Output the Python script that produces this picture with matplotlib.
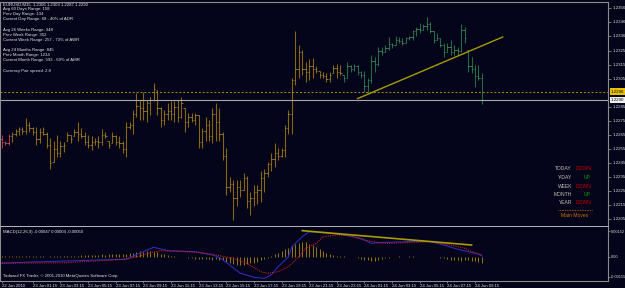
import numpy as np
import matplotlib
matplotlib.use("Agg")
import matplotlib.pyplot as plt
import matplotlib.transforms as mtransforms
from matplotlib.lines import Line2D

plt.rcParams['font.family'] = ['Liberation Sans', 'DejaVu Sans']

# ---------------- data (EURUSD, M15) ----------------
BASE = 1.2200   # bar prices are given in pips above this level
high_pips = [65, 61, 66, 67, 69, 71, 71, 77, 74, 71,
             71, 70, 71, 67, 63, 61, 65, 61, 60, 67,
             65, 69, 74, 70, 67, 65, 64, 63, 64, 69,
             67, 61, 67, 65, 64, 61, 74, 74, 83, 95,
             90, 96, 90, 92, 102, 97, 85, 83, 88, 89,
             89, 90, 92, 84, 81, 81, 81, 79, 70, 78,
             76, 84, 88, 84, 67, 56, 35, 33, 33, 33,
             38, 36, 24, 29, 29, 39, 41, 46, 52, 59,
             56, 56, 72, 83, 106, 139, 129, 126, 117, 119,
             120, 114, 111, 110, 109, 110, 115, 116, 115, 108,
             117, 115, 116, 115, 111, 111, 106, 122, 121, 128,
             128, 129, 135, 131, 136, 135, 134, 135, 136, 140,
             142, 145, 144, 149, 146, 139, 138, 134, 131, 131,
             133, 129, 128, 144, 142, 126, 121, 115, 115, 109]
low_pips = [56, 58, 58, 60, 64, 65, 66, 66, 67, 65,
            58, 59, 65, 56, 41, 46, 49, 49, 53, 61,
            59, 64, 61, 63, 58, 56, 54, 58, 56, 58,
            63, 56, 59, 58, 56, 52, 49, 69, 66, 78,
            76, 76, 74, 79, 89, 79, 71, 72, 76, 76,
            74, 74, 77, 67, 71, 74, 72, 56, 56, 61,
            61, 59, 61, 61, 47, 22, 24, 4, 14, 21,
            26, 13, 8, 14, 16, 17, 24, 35, 39, 42,
            47, 49, 49, 66, 66, 101, 106, 108, 103, 104,
            106, 109, 106, 106, 103, 103, 109, 106, 108, 103,
            106, 110, 111, 108, 106, 96, 95, 102, 110, 114,
            122, 124, 126, 127, 129, 131, 129, 131, 133, 133,
            136, 138, 140, 140, 138, 131, 133, 128, 121, 124,
            122, 122, 122, 124, 131, 110, 109, 99, 104, 87]
open_pips = [62, 60, 59, 64, 66, 68, 69, 68, 72, 70,
             67, 62, 67, 66, 58, 46, 55, 52, 57, 61,
             65, 64, 67, 66, 64, 60, 58, 60, 61, 60,
             65, 61, 59, 64, 60, 59, 55, 71, 72, 80,
             86, 84, 82, 88, 90, 97, 84, 76, 80, 82,
             80, 85, 78, 84, 74, 78, 76, 79, 60, 68,
             72, 64, 80, 74, 66, 50, 28, 30, 20, 28,
             26, 34, 18, 20, 24, 26, 34, 38, 44, 48,
             52, 50, 54, 70, 80, 104, 112, 124, 112, 110,
             114, 112, 111, 108, 107, 105, 109, 113, 110, 108,
             106, 114, 112, 114, 110, 108, 100, 104, 118, 116,
             125, 124, 127, 130, 129, 133, 132, 131, 134, 135,
             139, 141, 140, 143, 144, 139, 133, 134, 129, 124,
             128, 124, 126, 125, 140, 126, 114, 112, 107, 106]
close_pips = [60, 59, 64, 66, 68, 69, 68, 72, 70, 67,
              62, 67, 66, 58, 45, 55, 52, 57, 58, 65,
              62, 67, 66, 64, 60, 58, 60, 61, 60, 65,
              64, 58, 64, 60, 59, 55, 71, 72, 80, 86,
              84, 82, 88, 90, 98, 84, 76, 80, 82, 80,
              85, 78, 88, 74, 78, 76, 79, 60, 68, 72,
              64, 80, 74, 66, 50, 28, 30, 20, 28, 26,
              34, 18, 20, 24, 26, 34, 38, 44, 48, 52,
              50, 54, 70, 80, 104, 112, 124, 112, 110, 114,
              112, 111, 108, 107, 105, 108, 113, 110, 109, 106,
              114, 112, 114, 110, 108, 100, 104, 118, 116, 125,
              124, 127, 130, 129, 133, 132, 131, 134, 135, 139,
              141, 140, 143, 144, 139, 133, 134, 129, 124, 128,
              124, 126, 125, 140, 134, 114, 112, 107, 106, 90]
day_counts = [3, 96, 41]          # bars on 22 Jun, 23 Jun, 24 Jun

bid_price = 1.2290
level_price = 1.2296
trend_idx = [103, 145]
trend_price = [1.2291, 1.2335]

price_ticks = [1.2356, 1.2346, 1.2336, 1.2325, 1.2315, 1.2305, 1.2285, 1.2275,
               1.2265, 1.2255, 1.2245, 1.2235, 1.2225, 1.2215, 1.2205]

# MACD window values in units of 0.00001
macd_hist = [4, 5, 6, 5, 6, 7, 6, 5, 6, 5, 4, 5,
             3, 2, 3, 4, 3, 4, 5, 6, 5, 6,
             8, 10, 12, 10, 12, 14, 12, 15, 14, 16, 18, 15, 17, 20, 18, 22,
             25, 30, 35, 32, 36, 34, 30, 28,
             20, 15, 10, 6, 4, 2, 0, -2,
             -5, -8, -10, -12, -10, -14, -12, -15, -13, -16,
             -20, -28, -35, -40, -45, -47, -45, -42, -38, -33, -28, -20,
             -12, -5, 5, 15,
             25, 35, 45, 55, 65, 75, 82, 88, 85,
             78, 70, 58, 45, 35, 25, 18,
             12, 8, 5, 3, 2, 1, -2, -5,
             -10, -15, -20, -25, -22, -18, -12,
             -6, -3, -2, 2, 3, 1, 2, 4, 3, 2, 1, -1, 1, 2, 1, 0, -3,
             -8, -12, -15, -18, -20, -22, -20, -18, -22, -25, -28, -35]
macd_idx = [0, 19, 36, 40, 44, 48, 56, 61, 63, 66, 69, 73, 76, 78, 80, 83, 84,
            87, 89, 95, 99, 104, 107, 109, 118, 124, 128, 132, 135, 138, 139]
macd_line = [-35, -23, -13, 23, 57, 37, 31, 12, -2, -47, -94, -119, -125, -105, -57, 2, 60,
             119, 148, 139, 129, 109, 80, 84, 90, 90, 70, 45, 31, 16, 6]
signal_idx = [0, 19, 36, 40, 43, 46, 50, 57, 62, 67, 71, 75, 77, 80, 83, 86, 88,
              91, 93, 97, 101, 105, 109, 112, 124, 130, 134, 136, 139]
signal_line = [-37, -33, -13, 6, 25, 37, 35, 27, 12, -8, -37, -86, -95, -86, -57, 2, 51,
               80, 119, 129, 123, 99, 84, 80, 90, 70, 51, 31, 12]
div_idx = [87, 136]
div_val = [154, 70]
macd_ticks = [152, 0, -117]
macd_tick_labels = ["0.00152", "0.00", "-0.00155"]

time_idx = [0] + list(range(9, 138, 8))
time_labels = (["22 Jun 2010"]
               + ["23 Jun %02d:15" % h for h in range(1, 24, 2)]
               + ["24 Jun %02d:15" % h for h in range(1, 10, 2)])

info_lines = [("EURUSD,M15  1.2306 1.2309 1.2287 1.2290", 4.5),
              ("Avg 60 Days Range: 158", 9.3),
              ("Prev Day Range: 134", 14.3),
              ("Current Day Range: 68 - 40% of ADR", 19.3),
              ("Avg 26 Weeks Range: 348", 29.7),
              ("Prev Week Range: 352", 34.7),
              ("Current Week Range: 257 - 73% of AWR", 40.0),
              ("Avg 24 Months Range: 845", 50.3),
              ("Prev Month Range: 1234", 55.3),
              ("Current Month Range: 592 - 69% of AMR", 60.3),
              ("Currency Pair spread: 2.8", 71.0)]
moves = [("TODAY", "DOWN"), ("Y-DAY", "UP"), ("WEEK", "DOWN"),
         ("MONTH", "UP"), ("YEAR", "DOWN")]

# ---------------- layout ----------------
W, H = 625, 288
BG = '#04041a'
GRID = '#8c8c8c'
TXT = '#dcdcdc'
fig = plt.figure(figsize=(W / 100, H / 100), dpi=100, facecolor=BG)


def fx(px):
    return px / W


def fy(py):
    return 1 - py / H


AX_RIGHT = 608
STEP, X0 = 3.455, 1.7
xlim = (-X0 / STEP, (AX_RIGHT - X0) / STEP)

ax = fig.add_axes([0, fy(227), fx(AX_RIGHT), fy(2) - fy(227)], facecolor=BG)
axm = fig.add_axes([0, fy(281), fx(AX_RIGHT), fy(227) - fy(281)], facecolor=BG)

# ---------------- price bars ----------------
n = len(high_pips)
idx = np.arange(n)
hi = BASE + np.array(high_pips) / 1e4
lo = BASE + np.array(low_pips) / 1e4
op = BASE + np.array(open_pips) / 1e4
cl = BASE + np.array(close_pips) / 1e4
day_colors = ['#a8323f', '#86680a', '#236b3f']
tick_colors = ['#c8707a', '#b09a58', '#6a9e7e']
cols = np.repeat(day_colors, day_counts)
tcols = np.repeat(tick_colors, day_counts)

ax.vlines(idx, lo, hi, colors=cols, lw=0.8)
ax.hlines(op, idx - 0.4, idx, colors=tcols, lw=0.5)
ax.hlines(cl, idx, idx + 0.4, colors=tcols, lw=0.5)

ax.axhline(level_price, color='#b09010', lw=0.7, ls=(0, (2, 2)))
ax.axhline(bid_price, color='#a8a8a8', lw=0.8)
ax.plot(trend_idx, trend_price, color='#a89c00', lw=1.0)

ax.set_xlim(*xlim)
ax.set_ylim(1.2305 - 148 / 14000, 1.2305 + 77 / 14000)
ax.set_xticks([])
ax.yaxis.tick_right()
ax.set_yticks(price_ticks, labels=["%.4f" % p for p in price_ticks])
ax.tick_params(axis='y', length=2, width=0.5, color='#a0a0a0',
               labelcolor=TXT, labelsize=3.2, pad=1)
for s in ['top', 'left', 'right']:
    ax.spines[s].set_color(GRID)
    ax.spines[s].set_linewidth(0.8)
ax.spines['bottom'].set_color('#b8b8b8')
ax.spines['bottom'].set_linewidth(1.4)

trans = mtransforms.blended_transform_factory(ax.transAxes, ax.transData)
ax.text(1.005, level_price, "%.4f" % level_price, transform=trans, fontsize=3.2,
        color='black', va='center', ha='left', clip_on=False,
        bbox=dict(boxstyle='square,pad=0.25', fc='#e8c000', ec='none'))
ax.text(1.005, bid_price, "%.4f" % bid_price, transform=trans, fontsize=3.2,
        color='black', va='center', ha='left', clip_on=False,
        bbox=dict(boxstyle='square,pad=0.25', fc='#f0f0f0', ec='none'))

# ---------------- MACD ----------------
axm.vlines(idx, 0, macd_hist, colors='#8f7412', lw=0.75)
axm.plot(macd_idx, macd_line, color='#2c2cbc', lw=0.8)
axm.plot(signal_idx, signal_line, color='#c81e1e', lw=0.8, ls=(0, (1, 1)))
axm.plot(div_idx, div_val, color='#a89c00', lw=1.2)
axm.set_xlim(*xlim)
axm.set_ylim(-140.4, 175.5)
axm.yaxis.tick_right()
axm.set_yticks(macd_ticks, labels=macd_tick_labels)
axm.tick_params(axis='y', length=1.5, width=0.5, color='#a0a0a0',
                labelcolor=TXT, labelsize=2.8, pad=0.6)
axm.set_xticks(time_idx, labels=time_labels)
axm.tick_params(axis='x', length=1.5, width=0.5, color='#a0a0a0',
                labelcolor=TXT, labelsize=3.1, pad=0.8)
for lbl in axm.get_xticklabels():
    lbl.set_horizontalalignment('left')
axm.spines['top'].set_visible(False)
for s in ['left', 'right', 'bottom']:
    axm.spines[s].set_color(GRID)
    axm.spines[s].set_linewidth(0.8)

# ---------------- texts ----------------
for txt, py in info_lines:
    fig.text(fx(3), fy(py), txt, fontsize=3.1, color='#e6e6e6', va='center', ha='left')

for k, (name, state) in enumerate(moves):
    py = 169 + 8.5 * k
    fig.text(fx(572), fy(py), name, fontsize=3.6, color='#c8c0b4', va='center', ha='right')
    fig.text(fx(591), fy(py), state, fontsize=3.6,
             color='#c80000' if state == "DOWN" else '#00a800', va='center', ha='right')
fig.add_artist(Line2D([fx(558), fx(592)], [fy(210), fy(210)], color='#c07000',
                      lw=0.6, ls=(0, (1, 1))))
fig.text(fx(575), fy(215.5), "Main Moves", fontsize=3.6, color='#d07000', va='center', ha='center')

fig.text(fx(3), fy(232), "MACD(12,26,9) -0.00047 0.00004 -0.00050", fontsize=3.1,
         color='#e6e6e6', va='center', ha='left')
fig.text(fx(3), fy(276), "Tadawul FX Trader, \u00a9 2001-2010 MetaQuotes Software Corp.",
         fontsize=3.1, color='#e6e6e6', va='center', ha='left')

fig.savefig("out.png", dpi=100, facecolor=BG)
